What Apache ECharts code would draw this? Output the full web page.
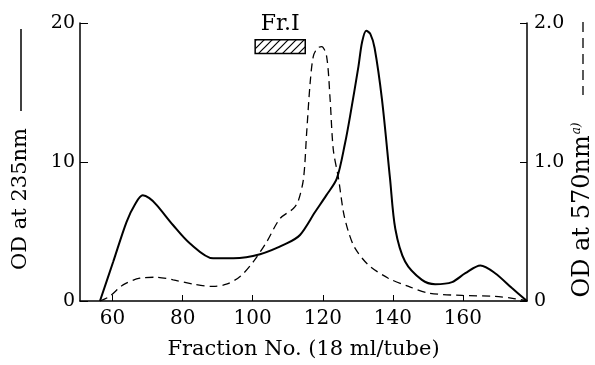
<!DOCTYPE html>
<html>
<head>
<meta charset="utf-8">
<style>
  html, body { margin: 0; padding: 0; background: #fff; }
  #chart { width: 595px; height: 365px; }
</style>
<script src="https://cdn.jsdelivr.net/npm/echarts@6/dist/echarts.min.js"></script>
</head>
<body>
<div id="chart"></div>
<script>
// OD at 235nm (left axis), solid
const solidX = [56.4, 60.2, 64, 66.5, 68.6, 70.5, 72.6, 77.3, 82.1, 88.7, 94.5, 102.1, 109.7, 113.5, 117.8, 121, 124, 126.4, 127.8, 130.2, 131.2, 132.4, 133.6, 134.8, 136.9, 139.2, 140.7, 143.5, 148.3, 152.1, 156.9, 160.7, 165, 169.2, 174, 178.3]
const solidY = [0, 2.84, 5.7, 7.0, 7.6, 7.4, 6.9, 5.45, 4.14, 3.07, 3.07, 3.36, 4.14, 4.75, 6.4, 7.6, 8.8, 11.4, 13.3, 16.9, 18.6, 19.45, 19.2, 18.2, 14.5, 8.8, 5.2, 2.84, 1.52, 1.21, 1.36, 2.0, 2.55, 2.0, 0.93, 0]

// OD at 570nm (right axis), dashed
const dashX = [56.4, 59.2, 63, 67.8, 72.6, 77.3, 83, 88.7, 92.5, 96.4, 100.2, 104, 107.8, 111.6, 113, 114.5, 115.4, 116.4, 117.3, 118.5, 119.7, 121.1, 122.1, 123, 124.5, 125.9, 127.3, 129.2, 133, 138.7, 144.5, 150.2, 159.7, 169.2, 175, 178.3]
const dashY = [0, 0.034, 0.116, 0.164, 0.171, 0.152, 0.121, 0.105, 0.121, 0.176, 0.284, 0.426, 0.593, 0.665, 0.72, 0.88, 1.21, 1.57, 1.76, 1.82, 1.83, 1.76, 1.45, 1.09, 0.88, 0.64, 0.5, 0.38, 0.26, 0.164, 0.105, 0.057, 0.04, 0.034, 0.016, 0]

const xTicks = [60, 80, 100, 120, 140, 160]
const frRange = [100.7, 115]
const frLevel = [17.8, 18.8]

const serif = 'DejaVu Serif'

// little hatch tile for the Fr.I box
const hatch = document.createElement('canvas')
hatch.width = 8
hatch.height = 8
const hc = hatch.getContext('2d')
hc.fillStyle = '#fff'
hc.fillRect(0, 0, 8, 8)
hc.strokeStyle = '#000'
hc.lineWidth = 1.2
hc.beginPath()
hc.moveTo(0, 8)
hc.lineTo(8, 0)
hc.moveTo(-2, 2)
hc.lineTo(2, -2)
hc.moveTo(6, 10)
hc.lineTo(10, 6)
hc.stroke()

const chart = echarts.init(document.getElementById('chart'), null, { renderer: 'canvas' })

chart.setOption({
  animation: false,
  backgroundColor: '#fff',
  grid: { left: 80, right: 68, top: 23, bottom: 62 },
  xAxis: {
    type: 'value',
    min: 50.7,
    max: 178.3,
    name: 'Fraction No. (18 ml/tube)',
    nameLocation: 'middle',
    nameGap: 38,
    nameTextStyle: { fontFamily: serif, fontSize: 21, color: '#000' },
    axisLine: { lineStyle: { color: '#000', width: 1.5 } },
    axisTick: { inside: true, length: 6, customValues: xTicks, lineStyle: { color: '#000' } },
    axisLabel: { customValues: xTicks, margin: 8, fontFamily: serif, fontSize: 20, color: '#000' },
    splitLine: { show: false },
  },
  yAxis: [
    {
      type: 'value',
      min: 0,
      max: 20,
      interval: 10,
      axisLine: { show: true, lineStyle: { color: '#000', width: 1.5 } },
      axisTick: { show: true, inside: true, length: 8, lineStyle: { color: '#000' } },
      axisLabel: { margin: 5, fontFamily: serif, fontSize: 19, color: '#000' },
      splitLine: { show: false },
    },
    {
      type: 'value',
      position: 'right',
      min: 0,
      max: 2,
      interval: 1,
      axisLine: { show: true, lineStyle: { color: '#000', width: 1.5 } },
      axisTick: { show: true, inside: true, length: 7, lineStyle: { color: '#000' } },
      axisLabel: {
        margin: 7,
        fontFamily: serif,
        fontSize: 19,
        color: '#000',
        formatter: (v) => (v === 0 ? '0' : v.toFixed(1)),
      },
      splitLine: { show: false },
    },
  ],
  series: [
    {
      name: 'OD at 235nm',
      type: 'line',
      yAxisIndex: 0,
      data: solidX.map((x, i) => [x, solidY[i]]),
      smooth: 0.3,
      symbol: 'none',
      lineStyle: { color: '#000', width: 2 },
      markArea: {
        silent: true,
        itemStyle: {
          color: { image: hatch, repeat: 'repeat' },
          borderColor: '#000',
          borderWidth: 1.5,
        },
        label: {
          show: true,
          position: 'top',
          distance: 4,
          fontFamily: serif,
          fontSize: 22,
          color: '#000',
        },
        data: [[
          { name: 'Fr.I', xAxis: frRange[0], yAxis: frLevel[0] },
          { xAxis: frRange[1], yAxis: frLevel[1] },
        ]],
      },
    },
    {
      name: 'OD at 570nm',
      type: 'line',
      yAxisIndex: 1,
      data: dashX.map((x, i) => [x, dashY[i]]),
      smooth: 0.3,
      symbol: 'none',
      lineStyle: { color: '#000', width: 1.3, type: [8, 5] },
    },
  ],
  graphic: [
    {
      type: 'text',
      x: 21,
      y: 199,
      rotation: Math.PI / 2,
      style: {
        text: 'OD at 235nm',
        font: '21px "DejaVu Serif"',
        fill: '#000',
        align: 'center',
        verticalAlign: 'middle',
      },
    },
    {
      type: 'line',
      shape: { x1: 21, y1: 29, x2: 21, y2: 111 },
      style: { stroke: '#000', lineWidth: 1.5 },
    },
    {
      type: 'text',
      x: 583,
      y: 210,
      rotation: Math.PI / 2,
      style: {
        text: '{n|OD at 570nm}{s|a)}',
        fill: '#000',
        align: 'center',
        verticalAlign: 'middle',
        rich: {
          n: { fontFamily: serif, fontSize: 24, color: '#000' },
          s: { fontFamily: serif, fontSize: 12, fontStyle: 'italic', color: '#000', verticalAlign: 'top', padding: [0, 0, 10, 1] },
        },
      },
    },
    {
      type: 'line',
      shape: { x1: 583, y1: 22, x2: 583, y2: 95 },
      style: { stroke: '#000', lineWidth: 1.3, lineDash: [10, 6] },
    },
  ],
})
</script>
</body>
</html>
